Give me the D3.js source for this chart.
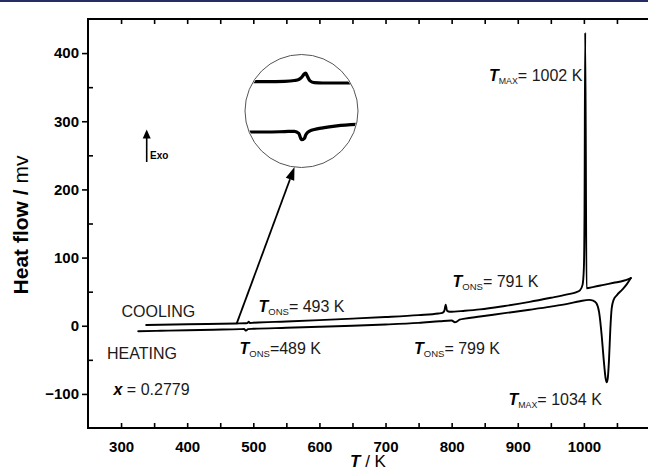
<!DOCTYPE html>
<html>
<head>
<meta charset="utf-8">
<script src="https://cdn.jsdelivr.net/npm/d3@7"></script>
<style>
  html, body { margin: 0; padding: 0; background: #fff; }
  svg { display: block; font-family: "Liberation Sans", Arial, sans-serif; }
</style>
</head>
<body>
<svg id="chart" width="648" height="472"></svg>
<script>
// ---------------- data ----------------
const xTicks = [300, 350, 400, 450, 500, 550, 600, 650, 700, 750, 800, 850, 900, 950, 1000, 1050];
const xLabels = [300, 400, 500, 600, 700, 800, 900, 1000];
const yMajor = [-100, 0, 100, 200, 300, 400];
const yMinor = [-50, 50, 150, 250, 350];
const yAll = [-100, -50, 0, 50, 100, 150, 200, 250, 300, 350, 400];

// heating run (K, mV)
const heatT = [326, 360, 400, 440, 480, 486, 489, 492, 500, 550, 600, 650, 700, 750, 782, 800, 805, 808, 812, 820, 843, 880, 918, 950, 975, 994, 1008, 1014, 1019, 1023, 1027, 1030, 1033, 1034.5, 1036, 1038, 1040, 1042, 1045, 1050, 1058, 1065, 1071];
const heatV = [-8, -7.4, -6.6, -5.8, -5, -4.8, -7.2, -4.9, -4.5, -3, -1.5, 0, 1.8, 4.2, 6.5, 7.6, 5.2, 6.2, 9, 10.5, 13.5, 18.5, 23.5, 28, 32, 36, 38, 37, 33, 20, -15, -50, -78, -83, -78, -50, -5, 25, 38, 45, 53, 61, 70];

// cooling run (K, mV)
const coolT = [338, 380, 430, 475, 488, 491, 493, 495, 500, 550, 600, 650, 700, 750, 780, 786, 789, 791, 793, 797, 820, 843, 880, 918, 950, 975, 988, 994, 998, 1000, 1001, 1002, 1004, 1015, 1030, 1045, 1060, 1071];
const coolV = [1.2, 1.8, 2.6, 3.4, 3.7, 3.8, 5.8, 4.0, 4.4, 6.2, 8.3, 10.5, 12.8, 15.6, 18, 19, 22, 31, 22, 20.5, 22, 24, 29, 35, 41, 46, 49, 52, 60, 85, 170, 430, 55, 57, 60, 63, 66, 70];

// magnified inset around the 490 K transition (relative units)
const insetT = [452, 465, 478, 485, 488, 490, 492, 493, 494, 496, 499, 505, 515, 530];
const insetCoolV = [21, 21, 21.2, 21.8, 22.5, 24, 26.5, 27, 25, 21.5, 20.2, 20, 20, 20];
const insetHeatV = [-15, -15, -14.7, -14.5, -16, -20.5, -19.5, -17, -15.5, -14.2, -13.2, -12, -10.6, -9.5];

// ---------------- drawing ----------------
const svg = d3.select("#chart");
const L = 88, R = 650, T = 19, B = 428;
const x = d3.scaleLinear().domain([250, 1100]).range([L, R]);
const y = d3.scaleLinear().domain([-150, 450]).range([B, T]);

// top header rule
svg.append("rect").attr("x", 0).attr("y", 0).attr("width", 648).attr("height", 2).attr("fill", "#252d66");

// frame
svg.append("rect").attr("x", L).attr("y", T).attr("width", R - L).attr("height", B - T)
  .attr("fill", "none").attr("stroke", "#000").attr("stroke-width", 2);

function styleAxis(g) {
  g.select(".domain").remove();
  g.selectAll(".tick line").attr("stroke", "#000").attr("stroke-width", 1.6);
  g.selectAll(".tick text").attr("fill", "#000").attr("font-size", 15).attr("font-weight", "bold")
    .attr("font-family", "'Liberation Sans', Arial, sans-serif");
}

// bottom axis
svg.append("g").attr("transform", `translate(0,${B})`)
  .call(d3.axisBottom(x).tickValues(xTicks).tickSize(-5).tickPadding(13)
    .tickFormat(d => xLabels.includes(d) ? d : ""))
  .call(styleAxis);
// top axis
svg.append("g").attr("transform", `translate(0,${T})`)
  .call(d3.axisTop(x).tickValues(xTicks).tickSize(-5).tickFormat(""))
  .call(styleAxis);
// left axis majors (outward) with labels
svg.append("g").attr("transform", `translate(${L},0)`)
  .call(d3.axisLeft(y).tickValues(yMajor).tickSize(6).tickPadding(3))
  .call(styleAxis);
// left minors (inward)
svg.append("g").attr("transform", `translate(${L},0)`)
  .call(d3.axisRight(y).tickValues(yMinor).tickSize(5).tickFormat(""))
  .call(styleAxis);
// right axis ticks (inward)
svg.append("g").attr("transform", `translate(${R},0)`)
  .call(d3.axisLeft(y).tickValues(yAll).tickSize(-6).tickFormat(""))
  .call(styleAxis);

// curves
const line = d3.line().x(d => x(d[0])).y(d => y(d[1])).curve(d3.curveMonotoneX);
const heat = heatT.map((t, i) => [t, heatV[i]]);
const cool = coolT.map((t, i) => [t, coolV[i]]);
svg.append("path").attr("d", line(heat)).attr("fill", "none").attr("stroke", "#000")
  .attr("stroke-width", 1.9).attr("stroke-linejoin", "round").attr("stroke-linecap", "round");
svg.append("path").attr("d", line(cool)).attr("fill", "none").attr("stroke", "#000")
  .attr("stroke-width", 1.9).attr("stroke-linejoin", "round").attr("stroke-linecap", "round");

// inset circle
const cx = 301.5, cy = 111, cr = 56.5;
svg.append("clipPath").attr("id", "insetClip").append("circle")
  .attr("cx", cx).attr("cy", cy).attr("r", cr - 1);
const ix = d3.scaleLinear().domain([452, 530]).range([248, 358]);
const iy = d3.scaleLinear().domain([-40, 40]).range([cy + 56, cy - 56]);
const iline = d3.line().x(d => ix(d[0])).y(d => iy(d[1])).curve(d3.curveMonotoneX);
const ig = svg.append("g").attr("clip-path", "url(#insetClip)");
ig.append("path").attr("d", iline(insetT.map((t, i) => [t, insetCoolV[i]])))
  .attr("fill", "none").attr("stroke", "#000").attr("stroke-width", 3.2);
ig.append("path").attr("d", iline(insetT.map((t, i) => [t, insetHeatV[i]])))
  .attr("fill", "none").attr("stroke", "#000").attr("stroke-width", 3.2);
svg.append("circle").attr("cx", cx).attr("cy", cy).attr("r", cr)
  .attr("fill", "none").attr("stroke", "#555").attr("stroke-width", 1);

// pointer arrow from cooling curve to inset
const ax0 = x(475), ay0 = y(3.4);
const tipX = 294.5, tipY = cy + Math.sqrt(cr * cr - (tipX - cx) * (tipX - cx));
const ang = Math.atan2(tipY - ay0, tipX - ax0);
const hl = 13, hw = 4.5;
const bx = tipX - hl * Math.cos(ang), by = tipY - hl * Math.sin(ang);
svg.append("line").attr("x1", ax0).attr("y1", ay0).attr("x2", bx).attr("y2", by)
  .attr("stroke", "#000").attr("stroke-width", 1.8);
svg.append("path").attr("d",
  `M${tipX},${tipY} L${bx + hw * Math.sin(ang)},${by - hw * Math.cos(ang)} L${bx - hw * Math.sin(ang)},${by + hw * Math.cos(ang)} Z`)
  .attr("fill", "#000");

// Exo arrow
svg.append("line").attr("x1", 146.7).attr("y1", 162).attr("x2", 146.7).attr("y2", 137)
  .attr("stroke", "#000").attr("stroke-width", 1.6);
svg.append("path").attr("d", "M146.7,129.5 L142.7,138.5 L150.7,138.5 Z").attr("fill", "#000");
svg.append("text").attr("x", 150).attr("y", 158.5).attr("font-size", 10).attr("font-weight", "bold")
  .attr("fill", "#000").text("Exo");

// annotations
const annColor = "#1a1a1a";
function tLabel(px, py, sub, rest, subSize) {
  const t = svg.append("text").attr("x", px).attr("y", py).attr("font-size", 16).attr("fill", annColor);
  t.append("tspan").attr("font-weight", "bold").attr("font-style", "italic").attr("fill", "#000").text("T");
  t.append("tspan").attr("font-size", subSize || 9.5).attr("dy", 3).text(sub);
  t.append("tspan").attr("dy", -3).text(rest);
}
tLabel(489, 81, "MAX", "= 1002 K", 8.8);
tLabel(258.5, 311.5, "ONS", "= 493 K");
tLabel(452.5, 286.5, "ONS", "= 791 K");
tLabel(239.5, 354, "ONS", "=489 K");
tLabel(414, 353.5, "ONS", "= 799 K");
tLabel(508.5, 405, "MAX", "= 1034 K", 8.8);

svg.append("text").attr("x", 121.5).attr("y", 317).attr("font-size", 16).attr("fill", annColor).text("COOLING");
svg.append("text").attr("x", 107).attr("y", 358.5).attr("font-size", 16).attr("fill", annColor).text("HEATING");
const xt = svg.append("text").attr("x", 113.5).attr("y", 395).attr("font-size", 16).attr("fill", annColor);
xt.append("tspan").attr("font-weight", "bold").attr("font-style", "italic").attr("fill", "#000").text("x");
xt.append("tspan").text(" = 0.2779");

// axis titles
const yl = svg.append("text").attr("transform", "translate(28,225) rotate(-90)")
  .attr("text-anchor", "middle").attr("font-size", 21).attr("fill", "#000");
yl.append("tspan").attr("font-weight", "bold").text("Heat flow / ");
yl.append("tspan").text("mv");

const xl = svg.append("text").attr("x", 368).attr("y", 467).attr("text-anchor", "middle")
  .attr("font-size", 17).attr("fill", "#000");
xl.append("tspan").attr("font-weight", "bold").attr("font-style", "italic").text("T");
xl.append("tspan").text(" / K");
</script>
</body>
</html>
